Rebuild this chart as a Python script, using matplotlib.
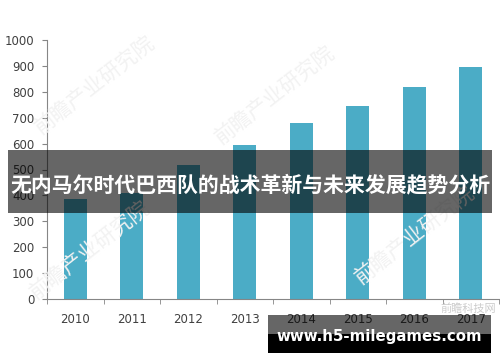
import matplotlib
matplotlib.use("Agg")
import matplotlib.pyplot as plt
from matplotlib.patches import Rectangle

plt.rcParams['font.family'] = ['DejaVu Sans', 'Noto Sans CJK SC']

years = ['2010', '2011', '2012', '2013', '2014', '2015', '2016', '2017']
values = [386, 408, 517, 595, 679, 745, 819, 896]
yticks = [0, 100, 200, 300, 400, 500, 600, 700, 800, 900, 1000]

title = '无内马尔时代巴西队的战术革新与未来发展趋势分析'
site = 'www.h5-milegames.com'
mark = '前瞻产业研究院'

W, H = 500, 362
fig = plt.figure(figsize=(W / 100, H / 100), dpi=100)
fig.patch.set_facecolor('white')


def fx(px):
    return px / W


def fy(py):
    return 1 - py / H


# faint watermarks behind the chart
for (x, y) in [(95, 85), (275, 95), (90, 250), (415, 235)]:
    fig.text(fx(x), fy(y), mark, rotation=38, fontsize=15, color='#f2f2f2',
             family=['Noto Sans CJK SC'], ha='center', va='center', zorder=0)

ax = fig.add_axes([fx(47), fy(299), fx(499) - fx(47), fy(40) - fy(299)])
ax.patch.set_alpha(0)
pos = list(range(len(years)))
ax.bar(pos, values, width=0.4, color='#4BACC6', zorder=2)
ax.set_xlim(-0.5, len(years) - 0.5)
ax.set_ylim(0, 1000)
ax.set_yticks(yticks)
ax.set_xticks(pos)
ax.set_xticklabels(years)
ax.set_xticks([p - 0.5 for p in pos] + [len(years) - 0.5], minor=True)
ax.tick_params(axis='x', which='major', length=0, pad=10, labelsize=8.5, labelcolor='#404040')
ax.tick_params(axis='x', which='minor', length=3.6, color='#868686')
ax.tick_params(axis='y', length=3.6, pad=5.5, labelsize=8.5, labelcolor='#404040', color='#868686')
for s in ['top', 'right']:
    ax.spines[s].set_visible(False)
for s in ['left', 'bottom']:
    ax.spines[s].set_color('#868686')

# small source mark
fig.text(fx(468), fy(309), '前瞻科技网', fontsize=8, color='#cccccc',
         family=['Noto Sans CJK SC'], ha='center', va='center')

# title banner
fig.patches.append(Rectangle((fx(8), fy(213)), fx(484), 63 / H, transform=fig.transFigure,
                             facecolor='black', alpha=0.6, zorder=5))
fig.text(fx(250), fy(185), title, fontsize=15.0, color='white', fontweight='bold',
         family=['Noto Sans CJK SC'], ha='center', va='center', zorder=6)

# site box
fig.patches.append(Rectangle((fx(268), fy(334)), fx(223), 19 / H, transform=fig.transFigure,
                             facecolor='black', alpha=0.6, zorder=5))
fig.patches.append(Rectangle((fx(268), fy(353)), fx(223), 19 / H, transform=fig.transFigure,
                             facecolor='black', zorder=5))
fig.text(fx(379), fy(337), site, fontsize=10.8, color='white', fontweight='bold',
         ha='center', va='center', zorder=6)

fig.savefig('out.png', dpi=100)
